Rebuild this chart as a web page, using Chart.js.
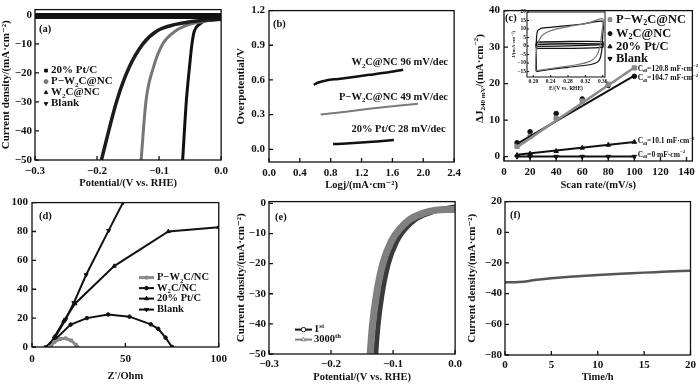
<!DOCTYPE html>
<html>
<head>
<meta charset="utf-8">
<script src="https://cdn.jsdelivr.net/npm/chart.js@4.4.1/dist/chart.umd.min.js"></script>
<style>
  body { margin: 0; background: #fff; }
  #fig { position: relative; width: 700px; height: 385px; overflow: hidden; background: #fff; }
  #fig canvas { position: absolute; }
</style>
</head>
<body>
<div id="fig"></div>
<script>
// ---- (a) polarisation curves, potential (V) / current density (mA cm-2)
const aPtV = [-0.062, -0.056, -0.051, -0.047, -0.043, -0.035, -0.025, 0];
const aPtJ = [-50, -29.5, -18, -10, -5.5, -3.3, -2, -1.5];
const aPW2CV = [-0.129, -0.121, -0.109, -0.094, -0.073, -0.051, -0.02, 0];
const aPW2CJ = [-50, -29.5, -18, -10, -5.5, -3.3, -2, -1.5];
const aW2CV = [-0.193, -0.168, -0.148, -0.126, -0.103, -0.073, -0.04, 0];
const aW2CJ = [-50, -29.5, -18, -10, -5.5, -3.3, -2.1, -1.5];
const aBlankV = [-0.3, 0];
const aBlankJ = [-0.4, -0.4];
const aXTicks = [-0.3, -0.2, -0.1, 0];
const aYTicks = [-50, -40, -30, -20, -10, 0];

// ---- (b) tafel
const bW2CX = [0.58, 0.64, 0.74, 0.9, 1.1, 1.3, 1.5, 1.74];
const bW2CY = [0.558, 0.578, 0.596, 0.609, 0.626, 0.644, 0.662, 0.688];
const bPW2CX = [0.67, 1.0, 1.3, 1.6, 1.93];
const bPW2CY = [0.302, 0.325, 0.35, 0.372, 0.394];
const bPtX = [0.83, 1.0, 1.2, 1.4, 1.62];
const bPtY = [0.045, 0.05, 0.058, 0.068, 0.08];
const bXTicks = [0, 0.4, 0.8, 1.2, 1.6, 2.0, 2.4];
const bYTicks = [0, 0.3, 0.6, 0.9, 1.2];

// ---- (c) double layer, scan rate (mV/s)
const cRate = [10, 20, 40, 60, 80, 100];
const cPW2C = [2.8, 5.5, 10.5, 15.2, 19.8, 24.3];
const cW2C = [3.8, 6.8, 11.8, 15.8, 19.5, 22.0];
const cPt = [0.4, 0.8, 1.5, 2.4, 3.2, 4.0];
const cBlank = [0, 0, 0, 0, 0, 0];
const cFitX = [10, 100];
const cFitPW2C = [2.6, 24.4];
const cFitW2C = [3.5, 22.2];
const cFitPt = [0.5, 4.0];
const cFitBlank = [0, 0];
const cXTicks = [0, 20, 40, 60, 80, 100, 120, 140];
const cYTicks = [0, 10, 20, 30, 40];

// inset CV loops
const ciGrayE = [0.205, 0.206, 0.21, 0.218, 0.23, 0.25, 0.29, 0.33, 0.36, 0.358, 0.353, 0.345, 0.33, 0.30, 0.26, 0.22, 0.205];
const ciGrayJ = [-14.5, -6, 1, 5.5, 8, 9.8, 11.8, 13.8, 16, 8, -1, -6, -9, -11, -12.5, -14, -14.5];
const ciBlackE = [0.207, 0.207, 0.21, 0.22, 0.26, 0.31, 0.36, 0.36, 0.357, 0.35, 0.33, 0.28, 0.23, 0.207];
const ciBlackJ = [-15, 3, 9, 10.5, 11.5, 12.8, 14.5, 6, -4, -9, -11, -12.5, -14, -15];
const ciPtE = [0.206, 0.208, 0.36, 0.36, 0.208, 0.206];
const ciPtJ = [0.5, 2.2, 2.6, 0.8, -0.2, 0.5];
const ciBlankE = [0.206, 0.208, 0.36, 0.36, 0.208, 0.206];
const ciBlankJ = [-0.3, 1, 1.2, -0.8, -1.3, -0.3];
const ciXTicks = [0.20, 0.24, 0.28, 0.32, 0.36];
const ciYTicks = [-15, -10, -5, 0, 5, 10, 15, 20];

// ---- (d) nyquist, Z' / -Z''
const dPW2CX = [9.6, 12, 15, 18, 21, 23.5, 24.3];
const dPW2CY = [0, 3.5, 5.5, 6, 4.5, 1.5, 0];
const dW2CX = [10, 13, 20.7, 29.4, 40.8, 52.2, 63.6, 67.6, 71.5, 75];
const dW2CY = [0, 6, 15.5, 20, 22.5, 21, 15.7, 12.6, 6.5, 0];
const dPtX = [9, 12, 17, 23, 44, 73, 100];
const dPtY = [0, 7, 18, 30, 56, 80, 83];
const dBlankX = [7.5, 12, 18, 22.4, 29, 41, 48.7, 52];
const dBlankY = [0, 6, 19, 30.6, 50, 80.6, 100, 108];
const dXTicks = [0, 50, 100];
const dYTicks = [0, 20, 40, 60, 80, 100];

// ---- (e) stability LSV
const eFirstV = [-0.128, -0.1245, -0.118, -0.1076, -0.094, -0.080, -0.064, -0.042, -0.023, 0];
const eFirstJ = [-50, -41, -30.5, -20, -12.6, -8.4, -5.3, -3.2, -2.0, -1.2];
const eLastV = [-0.137, -0.1335, -0.127, -0.1166, -0.103, -0.089, -0.073, -0.051, -0.032, 0];
const eLastJ = [-50, -41, -30.5, -20, -12.6, -8.4, -5.3, -3.2, -2.3, -2.0];
const eXTicks = [-0.3, -0.2, -0.1, 0];
const eYTicks = [-50, -40, -30, -20, -10, 0];

// ---- (f) chronoamperometry
const fT = [0, 1, 2, 3, 4, 5, 7, 10, 13, 15, 17, 20];
const fJ = [-32.5, -32.5, -32.2, -31.3, -30.6, -30, -29, -27.8, -26.9, -26.3, -25.8, -25];
const fXTicks = [0, 5, 10, 15, 20];
const fYTicks = [-80, -60, -40, -20, 0, 20];

// canvas box / plot area in page pixels
const LAY = {
  a:  { canvas: [0, 0, 233, 192],   area: [35, 8, 222, 160] },
  b:  { canvas: [233, 0, 233, 192], area: [269, 10, 456, 162] },
  c:  { canvas: [466, 0, 234, 192], area: [504, 6, 693, 161] },
  ci: { canvas: [511, 6, 99, 86],   area: [527, 12, 605, 77] },
  d:  { canvas: [0, 192, 233, 193], area: [32, 200, 222, 347] },
  e:  { canvas: [233, 192, 233, 193], area: [269, 198, 456, 354] },
  f:  { canvas: [466, 192, 234, 193], area: [505, 200, 693, 355] }
};

const INK = '#111';
const GRAY = '#808080';
const FONT = '"Liberation Serif", "DejaVu Serif", serif';
Chart.defaults.font.family = FONT;
Chart.defaults.font.weight = 'bold';
Chart.defaults.color = INK;

const fig = document.getElementById('fig');
const pts = (xs, ys) => xs.map((x, i) => ({ x, y: ys[i] }));
const fmt = (v, dp) => (Math.abs(v) < 1e-9 ? 0 : v).toFixed(dp).replace('-', '\u2212');
const mono = { cubicInterpolationMode: 'monotone' };

function rich(ctx, segs, x, y, size, align) {
  if (typeof segs === 'string') segs = [segs];
  const parts = segs.map(s => {
    const [t, k] = typeof s === 'string' ? [s, ''] : s;
    return { t, k, f: 'bold ' + (k ? size * 0.65 : size) + 'px ' + FONT };
  });
  let w = 0;
  parts.forEach(p => { ctx.font = p.f; p.w = ctx.measureText(p.t).width; w += p.w; });
  let cx = align === 'right' ? x - w : align === 'center' ? x - w / 2 : x;
  ctx.textAlign = 'left';
  ctx.textBaseline = 'middle';
  parts.forEach(p => {
    ctx.font = p.f;
    const dy = p.k === 'sub' ? size * 0.3 : p.k === 'sup' ? -size * 0.35 : 0;
    ctx.fillText(p.t, cx, y + dy);
    cx += p.w;
  });
}

function mark(ctx, style, x, y, r, color, open) {
  ctx.save();
  ctx.fillStyle = open ? '#fff' : color;
  ctx.strokeStyle = color;
  ctx.lineWidth = 1;
  Chart.helpers.drawPoint(ctx, {
    pointStyle: style === 'down' ? 'triangle' : style,
    rotation: style === 'down' ? 180 : 0,
    radius: r, borderWidth: 1
  }, x, y);
  ctx.restore();
}

// frame, inward ticks, labels and keys
const deco = {
  id: 'deco',
  beforeDatasetsDraw(chart, args, o) {
    if (!o.fill) return;
    const c = chart.chartArea;
    chart.ctx.save();
    chart.ctx.fillStyle = o.fill;
    chart.ctx.fillRect(c.left, c.top, c.width, c.height);
    chart.ctx.restore();
  },
  afterDraw(chart, args, o) {
    const { ctx, chartArea: c, scales } = chart;
    ctx.save();
    ctx.strokeStyle = INK;
    ctx.lineWidth = o.lw || 1.3;
    ctx.strokeRect(c.left, c.top, c.width, c.height);
    const tl = o.tick || 4;
    ctx.beginPath();
    scales.x.ticks.forEach(t => {
      const p = scales.x.getPixelForValue(t.value);
      ctx.moveTo(p, c.bottom); ctx.lineTo(p, c.bottom - tl);
    });
    scales.y.ticks.forEach(t => {
      const p = scales.y.getPixelForValue(t.value);
      ctx.moveTo(c.left, p); ctx.lineTo(c.left + tl, p);
    });
    ctx.stroke();
    ctx.fillStyle = INK;
    (o.notes || []).forEach(n => {
      const px = n.data ? scales.x.getPixelForValue(n.x) : c.left + n.x;
      const py = n.data ? scales.y.getPixelForValue(n.y) : c.top + n.y;
      rich(ctx, n.t, px, py, n.size || 10.5, n.align || 'left');
    });
    (o.keys || []).forEach(k => {
      const y = c.top + k.dy;
      if (k.line) {
        ctx.strokeStyle = k.color;
        ctx.lineWidth = k.lw || 2;
        ctx.beginPath();
        ctx.moveTo(c.left + k.line[0], y);
        ctx.lineTo(c.left + k.line[1], y);
        ctx.stroke();
      }
      mark(ctx, k.style, c.left + k.dx, y, k.r || 2, k.color, k.open);
      ctx.fillStyle = INK;
      rich(ctx, k.t, c.left + k.tx, y, k.size || 10.5, 'left');
    });
    if (o.ytitle) {
      ctx.translate(c.left + o.ytitle.x, c.top + o.ytitle.y);
      ctx.rotate(-Math.PI / 2);
      rich(ctx, o.ytitle.t, 0, 0, o.ytitle.size || 11, 'center');
    }
    ctx.restore();
  }
};
Chart.register(deco);

function axis(o, size) {
  return {
    type: 'linear', min: o.min, max: o.max,
    afterBuildTicks: s => { s.ticks = o.ticks.map(v => ({ value: v })); },
    afterFit: s => { if (s.isHorizontal()) s.height = size; else s.width = size; },
    grid: { display: false, drawTicks: false },
    border: { display: false },
    ticks: {
      autoSkip: false, maxRotation: 0, padding: o.pad ?? 4, color: INK,
      font: { size: o.fs || 11, weight: 'bold' },
      callback: v => fmt(v, o.dp || 0)
    },
    title: {
      display: !!o.title, text: o.title || '', color: INK,
      font: { size: o.tfs || 11, weight: 'bold' },
      padding: { top: o.tp || 0, bottom: o.tp || 0 }
    }
  };
}

function build(key, datasets, xo, yo, dec) {
  const [cl, ct, cw, ch] = LAY[key].canvas;
  const [al, at, ar, ab] = LAY[key].area;
  const cv = document.createElement('canvas');
  cv.width = cw; cv.height = ch;
  cv.style.left = cl + 'px'; cv.style.top = ct + 'px';
  cv.style.width = cw + 'px'; cv.style.height = ch + 'px';
  fig.appendChild(cv);
  return new Chart(cv, {
    type: 'scatter',
    data: { datasets },
    options: {
      responsive: false, animation: false, devicePixelRatio: 1,
      layout: { padding: { left: 0, top: at - ct, right: cl + cw - ar, bottom: 0 } },
      plugins: { legend: { display: false }, tooltip: { enabled: false }, deco: dec },
      scales: { x: axis(xo, ct + ch - ab), y: axis(yo, al - cl) }
    }
  });
}

function line(xs, ys, color, w, extra) {
  return Object.assign({
    data: pts(xs, ys), showLine: true, borderColor: color, backgroundColor: color,
    borderWidth: w, pointRadius: 0, clip: 0, tension: 0
  }, extra || {});
}
function dots(xs, ys, style, color, r) {
  return {
    data: pts(xs, ys), showLine: false, clip: 0,
    pointStyle: style === 'down' ? 'triangle' : style,
    rotation: style === 'down' ? 180 : 0,
    pointRadius: r, pointBackgroundColor: color, pointBorderColor: color, pointBorderWidth: 1
  };
}
function path(xs, ys, color, w, style, r) {
  return Object.assign(dots(xs, ys, style, color, r), {
    showLine: true, borderColor: color, borderWidth: w, tension: 0
  });
}

const W2 = name => [name[0], ['2', 'sub'], name.slice(1)];

// (a)
build('a', [
  line(aBlankV, aBlankJ, INK, 6),
  line(aW2CV, aW2CJ, '#1c1c1c', 3.5, mono),
  line(aPW2CV, aPW2CJ, '#767676', 3, mono),
  line(aPtV, aPtJ, INK, 3, mono)
], { min: -0.3, max: 0, ticks: aXTicks, dp: 1, title: 'Potential/(V vs. RHE)', tp: 2, pad: 5, tfs: 10.5 },
   { min: -50, max: 1.8, ticks: aYTicks, title: 'Current density/(mA\u00b7cm\u207b\u00b2)', tp: 0, pad: 3 },
   {
     notes: [{ t: '(a)', x: 4, y: 20 }],
     keys: [
       { style: 'rect', color: INK, dx: 11, tx: 16, dy: 61, t: '20% Pt/C', size: 11 },
       { style: 'circle', color: '#767676', dx: 11, tx: 16, dy: 72, t: ['P\u2212W', ['2', 'sub'], 'C@NC'], size: 11 },
       { style: 'triangle', color: INK, dx: 11, tx: 16, dy: 83, t: W2('WC@NC'), size: 11 },
       { style: 'down', color: INK, dx: 11, tx: 16, dy: 94, t: 'Blank', size: 11 }
     ]
   });

// (b)
build('b', [
  line(bW2CX, bW2CY, INK, 2.5, mono),
  line(bPW2CX, bPW2CY, '#7a7a7a', 2),
  line(bPtX, bPtY, INK, 2.5, mono)
], { min: 0, max: 2.4, ticks: bXTicks, dp: 1, title: 'Logj/(mA\u00b7cm\u207b\u00b2)', tp: 0, pad: 5, tfs: 10.5 },
   { min: -0.11, max: 1.2, ticks: bYTicks, dp: 1, title: 'Overpotential/V', tp: 2, pad: 4 },
   {
     notes: [
       { t: '(b)', x: 4, y: 14 },
       { t: ['W', ['2', 'sub'], 'C@NC 96 mV/dec'], x: 2.32, y: 0.75, data: true, align: 'right' },
       { t: ['P\u2212W', ['2', 'sub'], 'C@NC 49 mV/dec'], x: 2.32, y: 0.45, data: true, align: 'right' },
       { t: '20% Pt/C 28 mV/dec', x: 2.29, y: 0.17, data: true, align: 'right' }
     ]
   });

// (c)
const cdl = v => ['C', ['dl', 'sub'], '=' + v + ' mF\u00b7cm', ['\u22122', 'sup']];
build('c', [
  line(cFitX, cFitPW2C, '#8a8a8a', 2.5),
  line(cFitX, cFitW2C, INK, 2),
  line(cFitX, cFitPt, INK, 2),
  line(cFitX, cFitBlank, INK, 2),
  dots(cRate, cPW2C, 'rect', '#8a8a8a', 3),
  dots(cRate, cW2C, 'circle', INK, 2.3),
  dots(cRate, cPt, 'triangle', INK, 2.6),
  dots(cRate, cBlank, 'down', INK, 2.6)
], { min: 0, max: 144.5, ticks: cXTicks, title: 'Scan rate/(mV/s)', tp: 0, pad: 5, tfs: 10.5 },
   { min: -1.2, max: 40, ticks: cYTicks, pad: 4 },
   {
     notes: [
       { t: '(c)', x: 1, y: 8 },
       { t: cdl('120.8'), x: 102.5, y: 24.1, data: true, size: 7.5 },
       { t: cdl('104.7'), x: 102.5, y: 21.5, data: true, size: 7.5 },
       { t: cdl('10.1'), x: 102.5, y: 4.2, data: true, size: 7.5 },
       { t: cdl('0'), x: 102.5, y: 0.5, data: true, size: 7.5 }
     ],
     keys: [
       { style: 'rect', color: '#8a8a8a', dx: 106, tx: 112, dy: 9, r: 2.6, t: ['P\u2212W', ['2', 'sub'], 'C@NC'], size: 12.5 },
       { style: 'circle', color: INK, dx: 106, tx: 112, dy: 23, r: 2, t: W2('WC@NC'), size: 12.5 },
       { style: 'triangle', color: INK, dx: 106, tx: 112, dy: 36, r: 2.4, t: '20% Pt/C', size: 12.5 },
       { style: 'down', color: INK, dx: 106, tx: 112, dy: 48, r: 2.4, t: 'Blank', size: 12.5 }
     ],
     ytitle: { t: ['\u0394J', ['240 mV', 'sub'], '/(mA\u00b7cm', ['\u22122', 'sup'], ')'], x: -24, y: 68, size: 11 }
   });

// (c) inset
build('ci', [
  line(ciGrayE, ciGrayJ, '#777', 1.2, { tension: 0.25 }),
  line(ciBlackE, ciBlackJ, INK, 1.2, { tension: 0.2 }),
  line(ciPtE, ciPtJ, INK, 1.4, { tension: 0.2 }),
  line(ciBlankE, ciBlankJ, INK, 1.4, { tension: 0.2 })
], { min: 0.1854, max: 0.3653, ticks: ciXTicks, dp: 2, title: 'E/(V vs. RHE)', tfs: 5.5, fs: 5.5, pad: 1, tp: 0 },
   { min: -18.2, max: 20, ticks: ciYTicks, fs: 5.5, pad: 1, title: 'J/(mA\u00b7cm\u207b\u00b2)', tfs: 5, tp: 0 },
   { fill: '#fff', lw: 1, tick: 2 });

// (d)
build('d', [
  path(dPW2CX, dPW2CY, '#8a8a8a', 3, 'rect', 2),
  path(dW2CX, dW2CY, INK, 2, 'circle', 1.8),
  path(dPtX, dPtY, INK, 2, 'triangle', 2.3),
  path(dBlankX, dBlankY, INK, 2, 'down', 2.3)
], { min: 0, max: 100, ticks: dXTicks, title: "Z'/Ohm", tp: 2, pad: 6, tfs: 10.5 },
   { min: 0, max: 100, ticks: dYTicks, pad: 4 },
   {
     notes: [{ t: '(d)', x: 7, y: 14 }],
     keys: [
       { style: 'rect', color: '#8a8a8a', line: [107, 122], lw: 3, dx: 114.5, tx: 125, dy: 75, r: 2, t: ['P\u2212W', ['2', 'sub'], 'C/NC'] },
       { style: 'circle', color: INK, line: [107, 122], dx: 114.5, tx: 125, dy: 85.5, r: 1.8, t: W2('WC/NC') },
       { style: 'triangle', color: INK, line: [107, 122], dx: 114.5, tx: 125, dy: 96, r: 2.3, t: '20% Pt/C' },
       { style: 'down', color: INK, line: [107, 122], dx: 114.5, tx: 125, dy: 107, r: 2.3, t: 'Blank' }
     ]
   });

// (e)
build('e', [
  line(eLastV, eLastJ, GRAY, 7, mono),
  line(eFirstV, eFirstJ, '#3a3a3a', 5, mono)
], { min: -0.3, max: 0, ticks: eXTicks, dp: 1, title: 'Potential/(V vs. RHE)', tp: 1, pad: 4, tfs: 10.5 },
   { min: -50, max: 0.6, ticks: eYTicks, title: 'Current density/(mA\u00b7cm\u207b\u00b2)', tp: 2, pad: 3 },
   {
     notes: [{ t: '(e)', x: 6, y: 16 }],
     keys: [
       { style: 'circle', open: true, color: INK, line: [26, 43], dx: 34.5, tx: 45, dy: 128, r: 2.2, t: ['1', ['st', 'sup']] },
       { style: 'triangle', open: true, color: GRAY, line: [26, 43], dx: 34.5, tx: 45, dy: 138, r: 2.4, t: ['3000', ['th', 'sup']] }
     ]
   });

// (f)
build('f', [
  line(fT, fJ, '#555', 2.5, mono)
], { min: 0, max: 20, ticks: fXTicks, title: 'Time/h', tp: 1, pad: 4, tfs: 10.5 },
   { min: -80, max: 20, ticks: fYTicks, title: 'Current density/(mA\u00b7cm\u207b\u00b2)', tp: 0, pad: 3 },
   { notes: [{ t: '(f)', x: 5, y: 14 }] });
</script>
</body>
</html>
